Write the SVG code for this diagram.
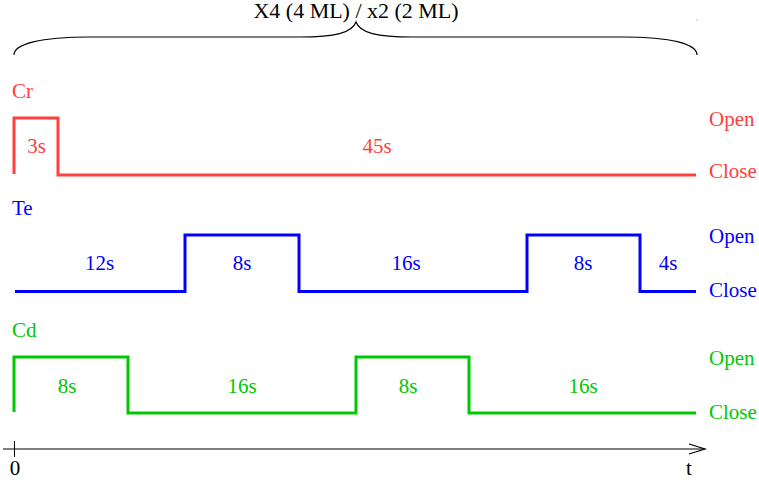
<svg xmlns="http://www.w3.org/2000/svg" width="759" height="482" viewBox="0 0 759 482">
<style>
text{font-family:"Times New Roman","Liberation Serif",Tinos,"Nimbus Roman","DejaVu Serif",serif;font-size:21px}
.c{text-anchor:middle}
.r{fill:#ff4040}.b{fill:#0000ff}.g{fill:#00c800}.k{fill:#000}
.sig{fill:none;stroke-width:3;stroke-linejoin:miter}
</style>
<rect width="759" height="482" fill="#fff"/>
<g id="title">
<text class="c k" x="356" y="18" textLength="205" lengthAdjust="spacingAndGlyphs">X4 (4 ML) / x2 (2 ML)</text>
<path d="M14,55 C14,44 40,37 90,37 L300,37 C335,37 352,33 356,22 C360,33 377,37 412,37 L622,37 C672,37 697,44 697,55" fill="none" stroke="#000" stroke-width="1.2"/>
<circle cx="697" cy="20" r="0.6" fill="#888"/>
</g>
<g id="Cr">
<text class="r" x="12" y="98">Cr</text>
<polyline class="sig" stroke="#ff4040" points="14,174 14,118 58,118 58,175 696,175"/>
<text class="c r" x="36.5" y="153">3s</text>
<text class="c r" x="377" y="153">45s</text>
<text class="r" x="709" y="126">Open</text>
<text class="r" x="709" y="178">Close</text>
</g>
<g id="Te">
<text class="b" x="12" y="215">Te</text>
<polyline class="sig" stroke="#0000ff" points="15,291.5 185,291.5 185,235 299,235 299,291.5 527,291.5 527,235 640,235 640,291.5 696,291.5"/>
<text class="c b" x="99.5" y="270">12s</text>
<text class="c b" x="242" y="270">8s</text>
<text class="c b" x="406" y="270">16s</text>
<text class="c b" x="583" y="270">8s</text>
<text class="c b" x="668" y="270">4s</text>
<text class="b" x="709" y="243">Open</text>
<text class="b" x="709" y="297">Close</text>
</g>
<g id="Cd">
<text class="g" x="12" y="337">Cd</text>
<polyline class="sig" stroke="#00c800" points="14,412 14,357 128,357 128,413 356,413 356,357 469,357 469,413 696,413"/>
<text class="c g" x="67" y="393">8s</text>
<text class="c g" x="242" y="393">16s</text>
<text class="c g" x="408" y="393">8s</text>
<text class="c g" x="583" y="393">16s</text>
<text class="g" x="709" y="365">Open</text>
<text class="g" x="709" y="419">Close</text>
</g>
<g id="connectors">
<line x1="3" y1="449" x2="705" y2="449" stroke="#000" stroke-width="1"/>
<polyline points="689,444 705,449 689,454" fill="none" stroke="#000" stroke-width="1.2"/>
<line x1="14.5" y1="441" x2="14.5" y2="457" stroke="#000" stroke-width="1"/>
</g>
<g id="axis-labels">
<text class="c k" x="15" y="475">0</text>
<text class="c k" x="689" y="475">t</text>
</g>
</svg>
